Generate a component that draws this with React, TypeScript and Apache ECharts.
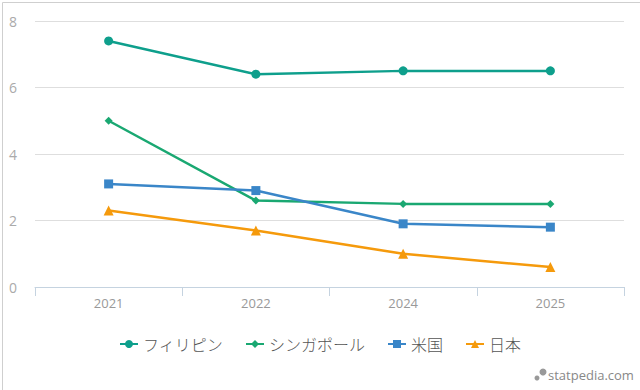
import React, { useEffect, useRef } from "react";
import * as echarts from "echarts";

const categories = ["2021", "2022", "2024", "2025"];
const seriesNames = ["フィリピン", "シンガポール", "米国", "日本"];
const philippines = [7.4, 6.4, 6.5, 6.5];
const singapore = [5.0, 2.6, 2.5, 2.5];
const usa = [3.1, 2.9, 1.9, 1.8];
const japan = [2.3, 1.7, 1.0, 0.6];
const colors = ["#0e9f8c", "#1aa872", "#3a86c8", "#f59a0c"];
const symbols = ["circle", "diamond", "rect", "triangle"];
const symbolSizes = [9, 8, 9, 10];

export default function App() {
  const ref = useRef<HTMLDivElement>(null);
  useEffect(() => {
    document.body.style.margin = "0";
    const chart = echarts.init(ref.current!, null, { renderer: "svg" });
    const data = [philippines, singapore, usa, japan];
    chart.setOption({
      animation: false,
      backgroundColor: "#fff",
      grid: { left: 35, right: 16, top: 21, bottom: 103, containLabel: false },
      legend: {
        bottom: 33,
        left: "center",
        itemWidth: 18,
        itemHeight: 10,
        itemGap: 22,
        textStyle: { fontFamily: "Noto Sans CJK JP", fontSize: 16, fontWeight: 300, color: "#555" },
        data: seriesNames,
      },
      xAxis: {
        type: "category",
        data: categories,
        boundaryGap: true,
        axisLine: { lineStyle: { color: "#c5d3e0" } },
        axisTick: { show: true, length: 9, lineStyle: { color: "#c5d3e0" } },
        axisLabel: { color: "#999", fontSize: 13, fontFamily: "Open Sans", margin: 9 },
      },
      yAxis: {
        type: "value",
        min: 0,
        max: 8,
        interval: 2,
        axisLine: { show: false },
        axisTick: { show: false },
        axisLabel: { color: "#aaa", fontSize: 14, fontFamily: "Open Sans", margin: 18 },
        splitLine: { lineStyle: { color: "#dedede" } },
      },
      series: seriesNames.map((name, i) => ({
        name,
        type: "line",
        data: data[i],
        symbol: symbols[i],
        symbolSize: symbolSizes[i],
        showSymbol: true,
        itemStyle: { color: colors[i] },
        lineStyle: { color: colors[i], width: 2.5 },
      })),
      graphic: [
        {
          type: "rect",
          left: 0,
          top: 0,
          shape: { x: 0.5, y: 0.5, width: 639, height: 389 },
          style: { fill: "none", stroke: "#cfcfcf", lineWidth: 1 },
          silent: true,
        },
        { type: "circle", shape: { cx: 537, cy: 378, r: 2.5 }, style: { fill: "#999" } },
        { type: "circle", shape: { cx: 543, cy: 372, r: 3.5 }, style: { fill: "#999" } },
        {
          type: "text",
          x: 548,
          y: 368,
          style: { text: "statpedia.com", fill: "#888", fontSize: 13, fontFamily: "Open Sans" },
        },
      ],
    });
    return () => chart.dispose();
  }, []);
  return <div ref={ref} style={{ width: 640, height: 390 }} />;
}
